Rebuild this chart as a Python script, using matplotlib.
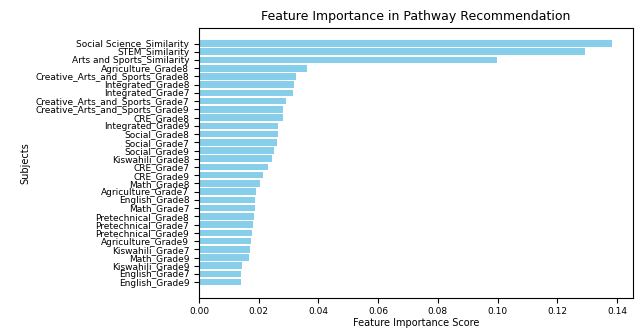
import numpy as np
import matplotlib.pyplot as plt

# features, top to bottom as shown in the chart
features = [
    'Social Science_Similarity', 'STEM_Similarity', 'Arts and Sports_Similarity',
    'Agriculture_Grade8', 'Creative_Arts_and_Sports_Grade8', 'Integrated_Grade8',
    'Integrated_Grade7', 'Creative_Arts_and_Sports_Grade7', 'Creative_Arts_and_Sports_Grade9',
    'CRE_Grade8', 'Integrated_Grade9', 'Social_Grade8', 'Social_Grade7', 'Social_Grade9',
    'Kiswahili_Grade8', 'CRE_Grade7', 'CRE_Grade9', 'Math_Grade8', 'Agriculture_Grade7',
    'English_Grade8', 'Math_Grade7', 'Pretechnical_Grade8', 'Pretechnical_Grade7',
    'Pretechnical_Grade9', 'Agriculture_Grade9', 'Kiswahili_Grade7', 'Math_Grade9',
    'Kiswahili_Grade9', 'English_Grade7', 'English_Grade9',
]
importance = [
    0.1384, 0.1292, 0.0998, 0.0363, 0.0326, 0.0318, 0.0315, 0.0290, 0.0281, 0.0280,
    0.0266, 0.0263, 0.0260, 0.0250, 0.0245, 0.0230, 0.0215, 0.0204, 0.0190, 0.0188,
    0.0186, 0.0184, 0.0180, 0.0177, 0.0174, 0.0170, 0.0168, 0.0145, 0.0141, 0.0140,
]

fig, ax = plt.subplots(figsize=(6.38, 3.29), dpi=100)
pos = np.arange(len(features))[::-1]
ax.barh(pos, importance, color='skyblue')
ax.set_yticks(pos)
ax.set_yticklabels(features, fontsize=6.5)
ax.tick_params(axis='x', labelsize=6.5)
ax.set_xlabel('Feature Importance Score', fontsize=7, labelpad=1)
ax.set_ylabel('Subjects', fontsize=7)
ax.set_title('Feature Importance in Pathway Recommendation', fontsize=9)

plt.subplots_adjust(left=0.312, right=0.992, top=0.915, bottom=0.095)
plt.savefig('out.png')
